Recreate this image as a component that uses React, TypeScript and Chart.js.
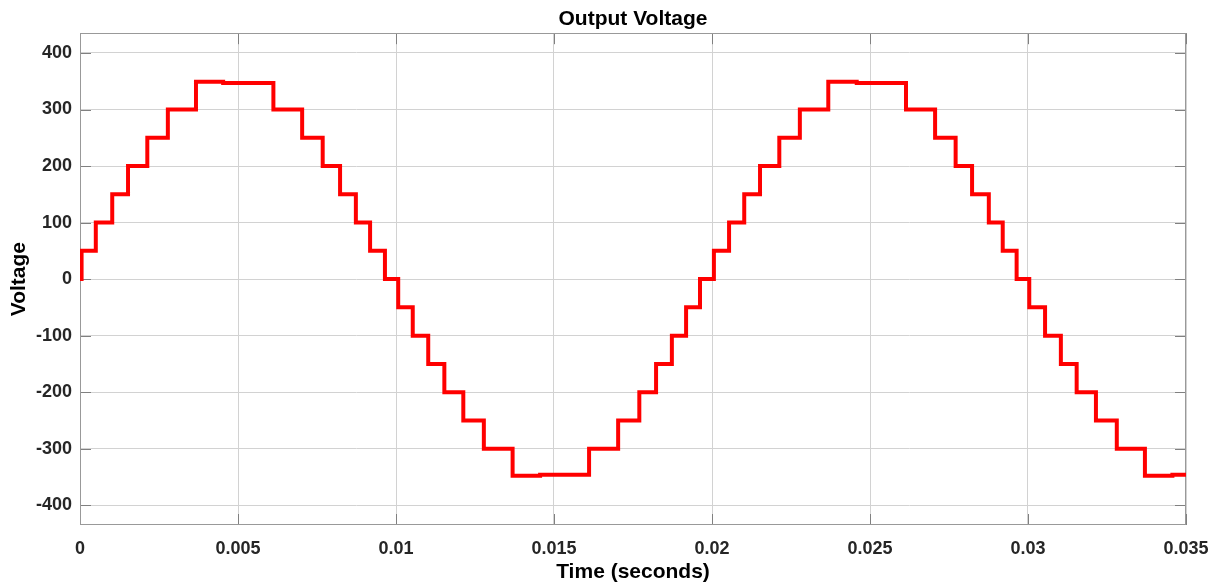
import { useEffect, useRef } from 'react';
import { Chart, registerables } from 'chart.js';

Chart.register(...registerables);

// Step transition times (s) and the level the output switches to at that time (V)
const stepTimes = [
  0, 0.00005, 0.0005, 0.00102, 0.00152, 0.00213, 0.00278, 0.00367, 0.00453,
  0.00612, 0.00703, 0.00768, 0.00823, 0.00873, 0.00918, 0.00965, 0.01007,
  0.01053, 0.01102, 0.01153, 0.01213, 0.01278, 0.01369, 0.01456,
  0.01611, 0.01703, 0.0177, 0.01823, 0.01873, 0.01918, 0.01962, 0.02006,
  0.02054, 0.02102, 0.02152, 0.02213, 0.02278, 0.02368, 0.02458,
  0.02614, 0.02706, 0.02771, 0.02823, 0.02876, 0.0292, 0.02964, 0.03004,
  0.03054, 0.03104, 0.03154, 0.03215, 0.03281, 0.0337, 0.03457, 0.035,
];
const stepLevels = [
  0, 50, 100, 150, 200, 250, 300, 349, 347,
  300, 250, 200, 150, 100, 50, 0, -50,
  -100, -150, -200, -250, -300, -348, -346,
  -300, -250, -200, -150, -100, -50, 0, 50,
  100, 150, 200, 250, 300, 349, 347,
  300, 250, 200, 150, 100, 50, 0, -50,
  -100, -150, -200, -250, -300, -348, -346, -346,
];

const xTicks = [0, 0.005, 0.01, 0.015, 0.02, 0.025, 0.03, 0.035];
const xTickLabels = ['0', '0.005', '0.01', '0.015', '0.02', '0.025', '0.03', '0.035'];
const yTicks = [-400, -300, -200, -100, 0, 100, 200, 300, 400];
const yTickLabels = ['-400', '-300', '-200', '-100', '0', '100', '200', '300', '400'];

const FONT = "'Liberation Sans', Arial, Helvetica, sans-serif";

const framePlugin = {
  id: 'frameTicks',
  beforeDatasetsDraw(chart: any) {
    const { ctx, chartArea: a, scales } = chart;
    ctx.save();
    ctx.lineWidth = 1;
    ctx.strokeStyle = '#808080';
    const len = 11;
    ctx.beginPath();
    xTicks.forEach((v) => {
      const px = Math.round(scales.x.getPixelForValue(v)) + 0.5;
      ctx.moveTo(px, a.bottom);
      ctx.lineTo(px, a.bottom - len);
      ctx.moveTo(px, a.top);
      ctx.lineTo(px, a.top + len);
    });
    yTicks.forEach((v) => {
      const py = Math.round(scales.y.getPixelForValue(v)) + 0.5;
      ctx.moveTo(a.left, py);
      ctx.lineTo(a.left + len, py);
      ctx.moveTo(a.right, py);
      ctx.lineTo(a.right - len, py);
    });
    ctx.stroke();
    ctx.strokeStyle = '#999999';
    ctx.strokeRect(
      Math.round(a.left) + 0.5,
      Math.round(a.top) + 0.5,
      Math.round(a.right - a.left) - 1,
      Math.round(a.bottom - a.top) - 1
    );
    ctx.restore();
  },
};

export default function App() {
  const canvasRef = useRef<HTMLCanvasElement | null>(null);

  useEffect(() => {
    document.body.style.margin = '0';
    const canvas = canvasRef.current;
    if (!canvas) return;
    const points = stepTimes.map((t, i) => ({ x: t, y: stepLevels[i] }));
    const chart = new Chart(canvas, {
      type: 'line',
      data: {
        datasets: [
          {
            data: points,
            stepped: 'before',
            borderColor: '#ff0000',
            backgroundColor: '#ff0000',
            borderWidth: 4,
            pointRadius: 0,
            fill: false,
            borderJoinStyle: 'miter',
            borderCapStyle: 'butt',
          } as any,
        ],
      },
      options: {
        responsive: false,
        animation: false,
        layout: { padding: { left: 0, right: 32, top: 0, bottom: 0 } },
        plugins: {
          legend: { display: false },
          tooltip: { enabled: false },
          title: {
            display: true,
            text: 'Output Voltage',
            fullSize: false,
            color: '#000000',
            font: { family: FONT, size: 21, weight: 'bold', lineHeight: 1.2 },
            padding: { top: 7, bottom: 1 },
          },
        },
        scales: {
          x: {
            type: 'linear',
            min: 0,
            max: 0.035,
            afterBuildTicks: (scale: any) => {
              scale.ticks = xTicks.map((v) => ({ value: v }));
            },
            afterFit: (scale: any) => {
              scale.height = 60;
              scale.paddingLeft = 0;
              scale.paddingRight = 0;
            },
            grid: { color: '#d2d2d2', lineWidth: 1, drawTicks: false },
            border: { display: false },
            ticks: {
              padding: 13,
              color: '#262626',
              font: { family: FONT, size: 18, weight: 'bold' },
              maxRotation: 0,
              autoSkip: false,
              callback: (v: any) => {
                const i = xTicks.findIndex((t) => Math.abs(t - Number(v)) < 1e-9);
                return i >= 0 ? xTickLabels[i] : '';
              },
            },
            title: {
              display: true,
              text: 'Time (seconds)',
              color: '#000000',
              font: { family: FONT, size: 21, weight: 'bold', lineHeight: 1.2 },
              padding: { top: 0, bottom: 0 },
            },
          },
          y: {
            type: 'linear',
            min: -435,
            max: 435,
            afterBuildTicks: (scale: any) => {
              scale.ticks = yTicks.map((v) => ({ value: v }));
            },
            afterFit: (scale: any) => {
              scale.width = 80;
              scale.paddingTop = 0;
              scale.paddingBottom = 0;
            },
            grid: { color: '#d2d2d2', lineWidth: 1, drawTicks: false },
            border: { display: false },
            ticks: {
              padding: 8,
              color: '#262626',
              font: { family: FONT, size: 18, weight: 'bold' },
              autoSkip: false,
              callback: (v: any) => {
                const i = yTicks.indexOf(Number(v));
                return i >= 0 ? yTickLabels[i] : '';
              },
            },
            title: {
              display: true,
              text: 'Voltage',
              color: '#000000',
              font: { family: FONT, size: 21, weight: 'bold', lineHeight: 1.2 },
              padding: { top: 7, bottom: 0 },
            },
          },
        },
      },
      plugins: [framePlugin],
    });
    return () => chart.destroy();
  }, []);

  return <canvas ref={canvasRef} width={1218} height={585} style={{ display: 'block' }} />;
}
